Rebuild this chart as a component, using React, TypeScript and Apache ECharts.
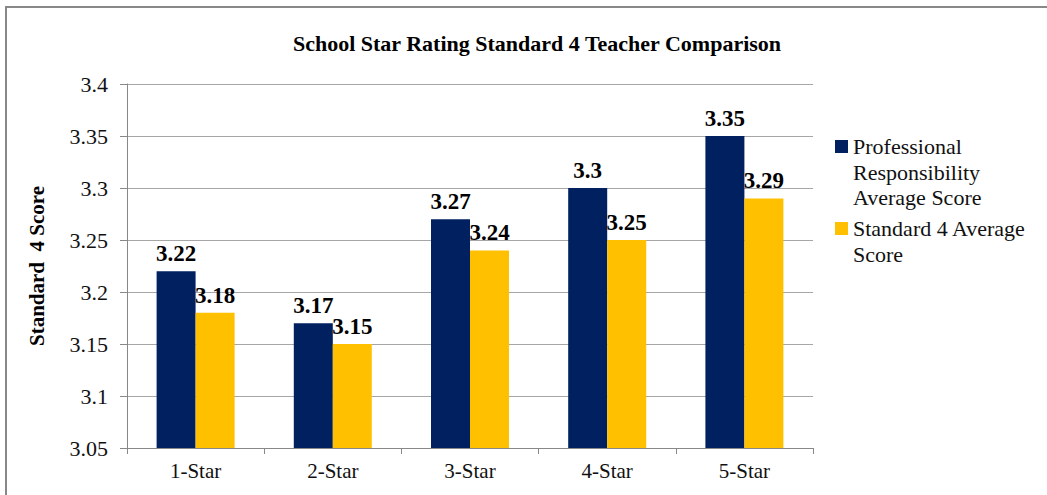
import React, { useEffect, useRef } from "react";
import * as echarts from "echarts";

const categories = ["1-Star", "2-Star", "3-Star", "4-Star", "5-Star"];
const seriesNames = ["Professional Responsibility Average Score", "Standard 4 Average Score"];
const professional = [3.22, 3.17, 3.27, 3.3, 3.35];
const standard4 = [3.18, 3.15, 3.24, 3.25, 3.29];
const legendLines = ["Professional\nResponsibility\nAverage Score", "Standard 4 Average\nScore"];
const colors = ["#002060", "#FFC000"];

const FONT = "Times New Roman, Liberation Serif, DejaVu Serif, serif";

export default function App() {
  const ref = useRef<HTMLDivElement>(null);
  useEffect(() => {
    if (!ref.current) return;
    const chart = echarts.init(ref.current, null, { renderer: "svg" });
    const label = {
      show: true,
      position: "top",
      distance: 6,
      fontFamily: FONT,
      fontWeight: "bold",
      fontSize: 23,
      color: "#000",
      formatter: (p: any) => String(p.value),
    };
    chart.setOption({
      animation: false,
      backgroundColor: "#fff",
      textStyle: { fontFamily: FONT },
      title: {
        text: "School Star Rating Standard 4 Teacher Comparison",
        left: 532,
        top: 27,
        textAlign: "center",
        textStyle: { fontFamily: FONT, fontWeight: "bold", fontSize: 22, color: "#000" },
      },
      grid: { left: 127, right: 234, top: 84, bottom: 47, containLabel: false },
      xAxis: {
        type: "category",
        data: categories,
        axisLine: { lineStyle: { color: "#888", width: 1 } },
        axisTick: { show: true, length: 6, lineStyle: { color: "#888" } },
        axisLabel: { fontFamily: FONT, fontWeight: "normal", fontSize: 21, color: "#111", margin: 12 },
      },
      yAxis: {
        type: "value",
        min: 3.05,
        max: 3.4,
        interval: 0.05,
        name: "Standard  4 Score",
        nameLocation: "middle",
        nameGap: 80,
        nameTextStyle: { fontFamily: FONT, fontWeight: "bold", fontSize: 21, color: "#000" },
        axisLine: { show: true, lineStyle: { color: "#888" } },
        axisTick: { show: true, length: 7, lineStyle: { color: "#888" } },
        splitLine: { lineStyle: { color: "#a6a6a6", width: 1 } },
        axisLabel: {
          fontFamily: FONT,
          fontWeight: "normal",
          fontSize: 22,
          color: "#111",
          margin: 19,
          formatter: (v: number) => String(+v.toFixed(2)),
        },
      },
      series: [
        {
          name: seriesNames[0],
          type: "bar",
          data: professional,
          barWidth: 39,
          barGap: "0%",
          itemStyle: { color: colors[0] },
          label,
        },
        {
          name: seriesNames[1],
          type: "bar",
          data: standard4,
          barWidth: 39,
          barGap: "0%",
          itemStyle: { color: colors[1] },
          label,
        },
      ],
      graphic: [
        {
          type: "rect",
          silent: true,
          shape: { x: 6, y: 7, width: 1200, height: 700 },
          style: { fill: "none", stroke: "#888", lineWidth: 2 },
        },
        {
          type: "rect",
          shape: { x: 835, y: 140, width: 13, height: 13 },
          style: { fill: colors[0] },
        },
        {
          type: "text",
          x: 853,
          y: 134,
          style: {
            text: legendLines[0],
            fontFamily: FONT,
            fontWeight: "normal",
            fontSize: 22,
            lineHeight: 25.5,
            fill: "#111",
            verticalAlign: "top",
          },
        },
        {
          type: "rect",
          shape: { x: 835, y: 222, width: 13, height: 13 },
          style: { fill: colors[1] },
        },
        {
          type: "text",
          x: 853,
          y: 216,
          style: {
            text: legendLines[1],
            fontFamily: FONT,
            fontWeight: "normal",
            fontSize: 22,
            lineHeight: 25.5,
            fill: "#111",
            verticalAlign: "top",
          },
        },
      ],
    });
    return () => chart.dispose();
  }, []);
  return (
    <div
      ref={ref}
      style={{ position: "fixed", left: 0, top: 0, width: 1047, height: 495, background: "#fff" }}
    />
  );
}
